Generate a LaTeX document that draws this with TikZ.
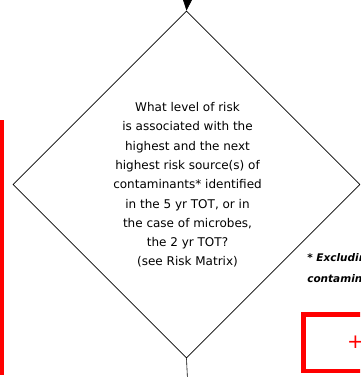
\documentclass[tikz,border=0pt]{standalone}
\usepackage{fontspec}
\setmainfont{DejaVu Sans}
\usetikzlibrary{arrows.meta,shapes.geometric}

\begin{document}
\begin{tikzpicture}[x=1pt,y=-1pt,>={Triangle[length=11pt,width=9pt]},
  semithick]
  \tikzstyle{decision}=[diamond,draw,line width=0.8pt,aspect=1,inner sep=0pt,
    minimum width=347pt,minimum height=347pt]
  \tikzstyle{riskbox}=[draw=red,line width=4.5pt,inner sep=0pt,outer sep=0pt]
  \tikzstyle{note}=[font=\bfseries\itshape\fontsize{10.5}{21}\selectfont,
    align=left,inner sep=0pt,anchor=north west]

  \useasboundingbox (0,0) rectangle (360,377);
  \clip (0,0) rectangle (360,377);

  \coordinate (in)  at (187.5,-2);
  \coordinate (out) at (187.5,380);

  \node[decision] (q) at (186.5,184.5) {};
  \node[align=center,font=\fontsize{12}{19.3}\selectfont] (qtext) at (187.5,185)
    {What level of risk\\is associated with the\\highest and the next\\
     highest risk source(s) of\\contaminants* identified\\
     in the 5 yr TOT, or in\\the case of microbes,\\the 2 yr TOT?\\
     (see Risk Matrix)};

  \node[riskbox,anchor=north east,minimum width=150pt,minimum height=251pt]
    (lbox) at (2,122) {};
  \node[riskbox,anchor=north west,minimum width=150pt,minimum height=56.5pt]
    (rbox) at (303.3,314.5) {};
  \node[text=red,font=\fontsize{20}{20}\selectfont] (plus) at (355.5,342) {+};

  \node[note] (excl) at (307,253) {* Excluding\\contaminants};

  \draw[->] (in) -- (q.north);
  \draw (q.south) -- (out);
\end{tikzpicture}
\end{document}
